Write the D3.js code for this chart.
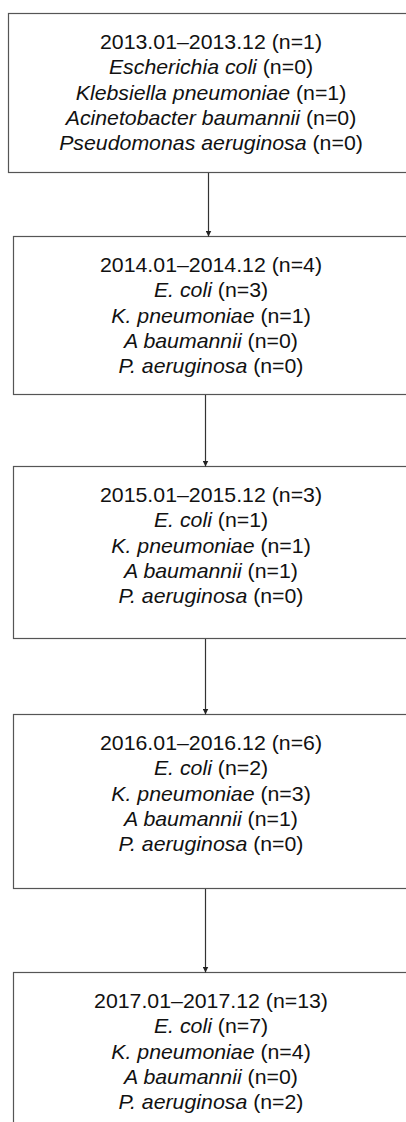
<!DOCTYPE html>
<html>
<head>
<meta charset="utf-8">
<script src="https://cdn.jsdelivr.net/npm/d3@7"></script>
<style>
  body { margin: 0; background: #fff; }
  text { font-family: "Liberation Sans", Arial, sans-serif; fill: #111; }
</style>
</head>
<body>
<div id="chart"></div>
<script>
// data
const periods = ["2013.01\u20132013.12", "2014.01\u20132014.12", "2015.01\u20132015.12",
                 "2016.01\u20132016.12", "2017.01\u20132017.12"]
const totals = [1, 4, 3, 6, 13]
const fullNames = ["Escherichia coli", "Klebsiella pneumoniae", "Acinetobacter baumannii", "Pseudomonas aeruginosa"]
const shortNames = ["E. coli", "K. pneumoniae", "A baumannii", "P. aeruginosa"]
const eColi = [0, 3, 1, 2, 7]
const kPneumoniae = [1, 1, 1, 3, 4]
const aBaumannii = [0, 0, 1, 1, 0]
const pAeruginosa = [0, 0, 0, 0, 2]

// layout
const W = 406, H = 1122
const boxTop = [13, 236, 466, 714, 972]
const boxH = [159, 158, 172, 174, 220]
const boxLeft = [8, 13, 13, 13, 13]
const arrowX = [208, 205, 205, 205]
const textCx = 211, firstLine = 29, lineGap = 25.3
const stretch = 1.065 // source figure is a bit wider than tall

let svg = d3.select("#chart").append("svg")
    .attr("width", W).attr("height", H)

svg.append("defs").append("marker")
    .attr("id", "arr")
    .attr("viewBox", "0 0 10 10")
    .attr("refX", 10).attr("refY", 5)
    .attr("markerWidth", 6).attr("markerHeight", 6)
    .attr("markerUnits", "userSpaceOnUse")
    .attr("orient", "auto")
    .append("path").attr("d", "M0,0L10,5L0,10Z").attr("fill", "#222")

let boxes = periods.map((p, i) => ({
    period: p,
    total: totals[i],
    rows: [eColi[i], kPneumoniae[i], aBaumannii[i], pAeruginosa[i]].map((n, j) => ({
        name: i === 0 ? fullNames[j] : shortNames[j], n: n
    })),
    i: i
}))

let g = svg.selectAll("g.box").data(boxes).enter().append("g").attr("class", "box")

g.append("rect")
    .attr("x", d => boxLeft[d.i] + 0.5)
    .attr("y", d => boxTop[d.i] + 0.5)
    .attr("width", d => 2 * (textCx - boxLeft[d.i]))
    .attr("height", d => boxH[d.i])
    .attr("fill", "none")
    .attr("stroke", "#555")
    .attr("stroke-width", 1.2)

function line(sel, y) {
    return sel.append("text")
        .attr("transform", `translate(${textCx},${y}) scale(${stretch},1)`)
        .attr("dy", "0.35em")
        .attr("text-anchor", "middle")
        .attr("font-size", 20)
}

g.each(function(d) {
    let sel = d3.select(this)
    let y0 = boxTop[d.i] + firstLine
    // header line
    line(sel, y0).text(`${d.period} (n=${d.total})`)
    // species lines
    d.rows.forEach((r, j) => {
        let t = line(sel, y0 + (j + 1) * lineGap)
        t.append("tspan").attr("font-style", "italic").text(r.name)
        t.append("tspan").text(` (n=${r.n})`)
    })
})

// arrows between boxes
svg.selectAll("line.arrow").data(arrowX).enter().append("line")
    .attr("class", "arrow")
    .attr("x1", d => d + 0.5).attr("x2", d => d + 0.5)
    .attr("y1", (d, i) => boxTop[i] + boxH[i] + 1)
    .attr("y2", (d, i) => boxTop[i + 1] + 0.5)
    .attr("stroke", "#333")
    .attr("stroke-width", 1.2)
    .attr("marker-end", "url(#arr)")
</script>
</body>
</html>
